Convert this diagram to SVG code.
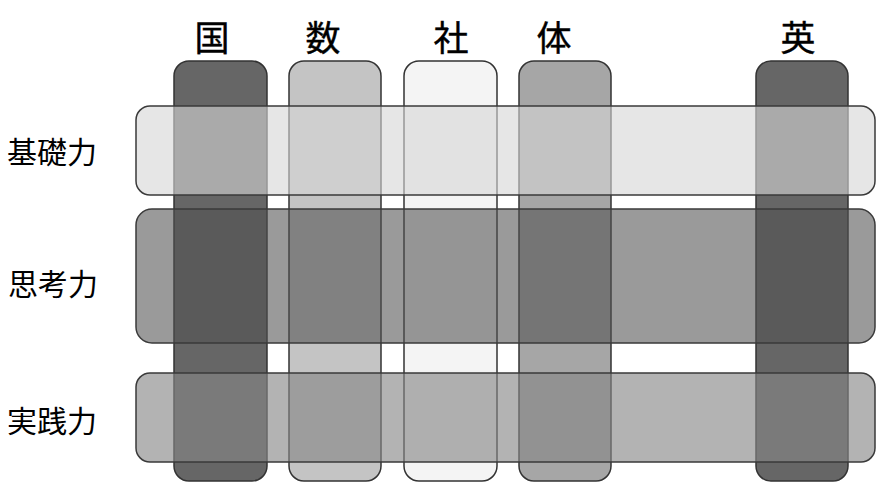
<svg xmlns="http://www.w3.org/2000/svg" width="876" height="482" viewBox="0 0 876 482">
<style>
.col{stroke:#333;stroke-width:1.5}
.row{stroke:#3a3a3a;stroke-width:1.5}
.hd{font-family:"Noto Sans CJK JP","Noto Sans CJK SC",sans-serif;font-size:35px;fill:#000;stroke:#000;stroke-width:0.4;text-anchor:middle;dominant-baseline:central}
.lb{font-family:"Noto Sans CJK JP","Noto Sans CJK SC",sans-serif;font-size:30px;fill:#000;text-anchor:start;dominant-baseline:central}
</style>
<rect width="876" height="482" fill="#fff"/>
<g id="col-koku"><rect class="col" x="174" y="61" width="93" height="420" rx="15" fill="#666"/><text class="hd" x="212" y="35">国</text></g>
<g id="col-suu"><rect class="col" x="289" y="61" width="92" height="420" rx="15" fill="#c4c4c4"/><text class="hd" x="323" y="35">数</text></g>
<g id="col-sha"><rect class="col" x="404" y="61" width="93" height="420" rx="15" fill="#f4f4f4"/><text class="hd" x="451" y="35">社</text></g>
<g id="col-tai"><rect class="col" x="519" y="61" width="92" height="420" rx="15" fill="#a6a6a6"/><text class="hd" x="554" y="35">体</text></g>
<g id="col-ei"><rect class="col" x="756" y="61" width="92" height="420" rx="15" fill="#666"/><text class="hd" x="798" y="35">英</text></g>
<g id="row-kiso"><rect class="row" x="136" y="106" width="739" height="89" rx="14" fill="#d6d6d6" fill-opacity="0.61"/><text class="lb" x="7" y="150">基礎力</text></g>
<g id="row-shikou"><rect class="row" x="136" y="209" width="739" height="134" rx="16" fill="#515151" fill-opacity="0.58"/><text class="lb" x="8" y="282">思考力</text></g>
<g id="row-jissen"><rect class="row" x="136" y="373" width="739" height="89" rx="14" fill="#878787" fill-opacity="0.63"/><text class="lb" x="7" y="419">実践力</text></g>
<g id="connectors"></g>
</svg>
